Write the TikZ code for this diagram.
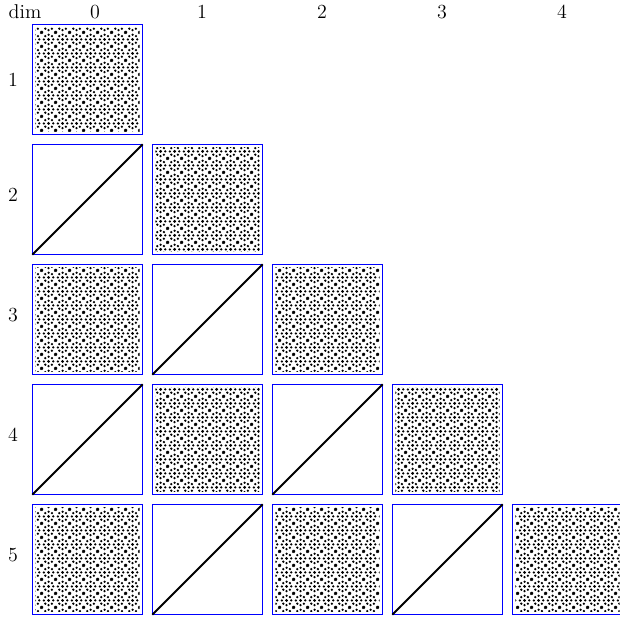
\documentclass[tikz,border=0pt]{standalone}
\usepackage{tikz}
\usetikzlibrary{patterns}
\pgfdeclarepatternformonly{ringdots}{\pgfpointorigin}{\pgfpoint{8.4pt}{8.4pt}}{\pgfpoint{8.4pt}{8.4pt}}{%
  \pgfpathcircle{\pgfpoint{4.2pt}{4.2pt}}{1pt}
  \pgfpathcircle{\pgfpoint{7.2pt}{4.2pt}}{0.8pt}
  \pgfpathcircle{\pgfpoint{6.32pt}{6.32pt}}{0.8pt}
  \pgfpathcircle{\pgfpoint{4.2pt}{7.2pt}}{0.8pt}
  \pgfpathcircle{\pgfpoint{2.08pt}{6.32pt}}{0.8pt}
  \pgfpathcircle{\pgfpoint{1.2pt}{4.2pt}}{0.8pt}
  \pgfpathcircle{\pgfpoint{2.08pt}{2.08pt}}{0.8pt}
  \pgfpathcircle{\pgfpoint{4.2pt}{1.2pt}}{0.8pt}
  \pgfpathcircle{\pgfpoint{6.32pt}{2.08pt}}{0.8pt}
  \pgfpathcircle{\pgfpoint{0pt}{0pt}}{0.9pt}
  \pgfpathcircle{\pgfpoint{8.4pt}{0pt}}{0.9pt}
  \pgfpathcircle{\pgfpoint{0pt}{8.4pt}}{0.9pt}
  \pgfpathcircle{\pgfpoint{8.4pt}{8.4pt}}{0.9pt}
  \pgfusepath{fill}
}

\begin{document}
\begin{tikzpicture}[x=0.6pt,y=-0.6pt,cell/.style={draw=blue,line width=0.6pt,inner sep=0pt,minimum size=65.6pt,rectangle,fill=white},dotbox/.style={cell,path picture={\fill[pattern=ringdots,pattern color=black] ([shift={(1.5pt,1.5pt)}]path picture bounding box.south west) rectangle ([shift={(-1.5pt,-1.5pt)}]path picture bounding box.north east);}},linebox/.style={cell},diag/.style={line width=1.1pt},lbl/.style={font=\fontsize{12}{14}\selectfont,inner sep=0pt}]
\useasboundingbox (0,0) rectangle (619,620);
\node[lbl] (dim) at (25,12) {dim};
\foreach \c/\x in %
{0/95,1/202,2/322,3/442,4/562} {
   \node[lbl] (col\c) at (\x,12) {\c};
}
\foreach \r/\y in %
{1/80,2/195,3/315,4/435,5/555} {
   \node[lbl] (row\r) at (13,\y) {\r};
}
\foreach \r in {1,...,5} {
   \foreach \c in {0,...,4} {
      \pgfmathtruncatemacro\k{\r-\c}
      \ifnum\k>0
         \ifodd\k
            \node[dotbox] (b\r\c) at (87.5+120*\c,79.5+120*\r-120) {};
         \else
            \node[linebox] (b\r\c) at (87.5+120*\c,79.5+120*\r-120) {};
            \draw[diag] (b\r\c.south west) -- (b\r\c.north east);
         \fi
      \fi
   }
}
\end{tikzpicture}
\end{document}
